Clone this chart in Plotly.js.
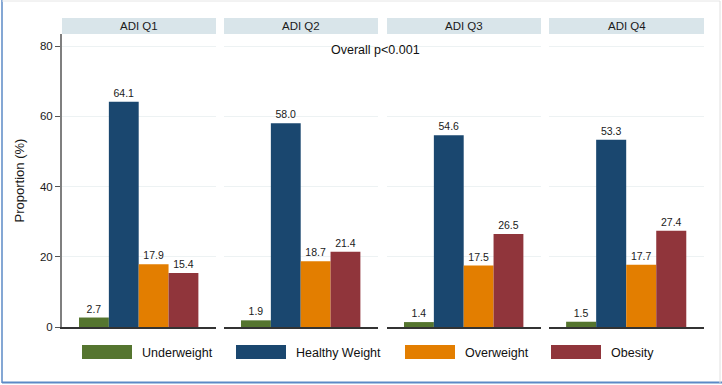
<!DOCTYPE html>
<html>
<head>
<meta charset="utf-8">
<script src="https://cdn.plot.ly/plotly-3.0.1.min.js"></script>
<style>html,body{margin:0;padding:0;background:#fff;}#chart{width:722px;height:385px;}</style>
</head>
<body>
<div id="chart"></div>
<script>
// ---- data ----
const groups = ['ADI Q1', 'ADI Q2', 'ADI Q3', 'ADI Q4'];
const categories = ['Underweight', 'Healthy Weight', 'Overweight', 'Obesity'];
const underweight = [2.7, 1.9, 1.4, 1.5];
const healthyWeight = [64.1, 58.0, 54.6, 53.3];
const overweight = [17.9, 18.7, 17.5, 17.7];
const obesity = [15.4, 21.4, 26.5, 27.4];
const yTicks = [0, 20, 40, 60, 80];
const pValueText = 'Overall p<0.001';
const yTitle = 'Proportion (%)';

// ---- styling ----
const colors = ['#55752f', '#1a476f', '#e37e00', '#90353b'];
const W = 722, H = 385;
const FONT = 'Liberation Sans, Arial, sans-serif';
const px = v => v / W;
const py = v => 1 - v / H;
const panelPx = [[62, 216], [224, 378], [387, 541], [549, 704]];
const plotTop = 34, plotBottom = 327, y80 = 46;
const yMax = 80 * (plotBottom - plotTop) / (plotBottom - y80);
const legendSwatchX = [82, 236, 405, 551];

const series = [underweight, healthyWeight, overweight, obesity];

const traces = [];
categories.forEach((cat, c) => {
  groups.forEach((g, p) => {
    traces.push({
      type: 'bar',
      x: [cat],
      y: [series[c][p]],
      xaxis: p === 0 ? 'x' : 'x' + (p + 1),
      yaxis: 'y',
      width: 1,
      marker: {color: colors[c], line: {width: 0}},
      texttemplate: '%{y:.1f}',
      textposition: 'outside',
      textfont: {family: FONT, size: 10.5, color: '#1a1a1a'},
      cliponaxis: false,
      showlegend: false,
      hoverinfo: 'skip',
      name: cat
    });
  });
});

const layout = {
  width: W, height: H,
  margin: {l: 0, r: 0, t: 0, b: 0},
  paper_bgcolor: '#ffffff',
  plot_bgcolor: '#ffffff',
  barmode: 'overlay',
  showlegend: false,
  font: {family: FONT, color: '#1a1a1a'},
  yaxis: {
    domain: [py(plotBottom), py(plotTop)],
    range: [0, yMax],
    tickvals: yTicks,
    ticks: 'outside', ticklen: 5, tickwidth: 1, tickcolor: '#555',
    tickfont: {family: FONT, size: 11.5, color: '#1a1a1a'},
    showline: true, linecolor: '#7f7f7f', linewidth: 2,
    showgrid: true, gridcolor: '#edf2f3', gridwidth: 1,
    zeroline: false,
    anchor: 'x',
    title: {text: yTitle, font: {family: FONT, size: 13, color: '#1a1a1a'}, standoff: 12}
  },
  annotations: [],
  shapes: []
};

groups.forEach((g, p) => {
  const key = p === 0 ? 'xaxis' : 'xaxis' + (p + 1);
  layout[key] = {
    domain: [px(panelPx[p][0]), px(panelPx[p][1])],
    type: 'category',
    categoryorder: 'array',
    categoryarray: categories,
    range: [-1.07, 4.09],
    showticklabels: false,
    ticks: '',
    showgrid: false,
    zeroline: false,
    showline: true, linecolor: '#333333', linewidth: 1.5,
    anchor: 'y',
    fixedrange: true
  };
  // strip background
  layout.shapes.push({
    type: 'rect', xref: 'paper', yref: 'paper',
    x0: px(panelPx[p][0]), x1: px(panelPx[p][1]),
    y0: py(34), y1: py(18),
    fillcolor: '#d9e5ea', line: {width: 0}, layer: 'below'
  });
  layout.annotations.push({
    xref: 'paper', yref: 'paper',
    x: px((panelPx[p][0] + panelPx[p][1]) / 2), y: py(26),
    text: g, showarrow: false, xanchor: 'center', yanchor: 'middle',
    font: {family: FONT, size: 11.5, color: '#1a1a1a'}
  });
});

layout.annotations.push({
  xref: 'paper', yref: 'paper', x: px(375.5), y: py(50),
  text: pValueText, showarrow: false, xanchor: 'center', yanchor: 'middle',
  font: {family: FONT, size: 12.5, color: '#111'}
});

// custom legend
categories.forEach((cat, c) => {
  const sx = legendSwatchX[c];
  layout.shapes.push({
    type: 'rect', xref: 'paper', yref: 'paper',
    x0: px(sx), x1: px(sx + 50), y0: py(359), y1: py(345),
    fillcolor: colors[c], line: {width: 0}
  });
  layout.annotations.push({
    xref: 'paper', yref: 'paper', x: px(sx + 58), y: py(352.5),
    text: cat, showarrow: false, xanchor: 'left', yanchor: 'middle',
    font: {family: FONT, size: 12.5, color: '#111'}
  });
});

// outer frame
layout.shapes.push(
  {type: 'line', xref: 'paper', yref: 'paper', x0: px(2), x1: px(2), y0: py(383), y1: py(0), line: {color: '#5b8ac6', width: 1.5}},
  {type: 'line', xref: 'paper', yref: 'paper', x0: px(2), x1: px(722), y0: py(382.5), y1: py(382.5), line: {color: '#5b8ac6', width: 2}},
  {type: 'line', xref: 'paper', yref: 'paper', x0: px(2), x1: px(720), y0: py(1), y1: py(1), line: {color: '#e6e6e6', width: 1}},
  {type: 'line', xref: 'paper', yref: 'paper', x0: px(720), x1: px(720), y0: py(383), y1: py(1), line: {color: '#e0e0e0', width: 1}}
);

Plotly.newPlot('chart', traces, layout, {displayModeBar: false, staticPlot: true});
</script>
</body>
</html>
